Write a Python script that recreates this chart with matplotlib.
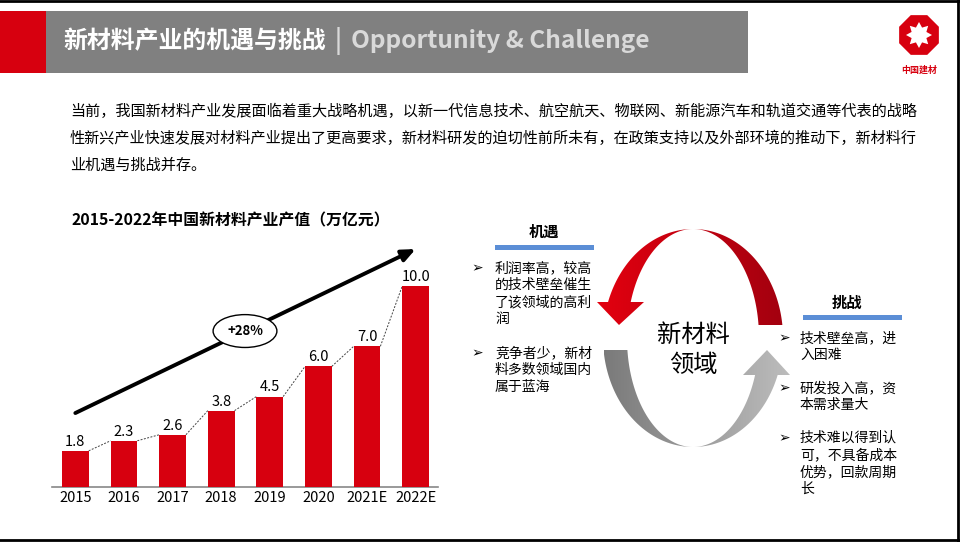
import numpy as np
import matplotlib
matplotlib.use("Agg")
import matplotlib.pyplot as plt
from matplotlib.patches import Rectangle, Polygon, RegularPolygon

plt.rcParams['font.family'] = ['Noto Sans CJK SC', 'DejaVu Sans']

# ---- data ----
years = ["2015", "2016", "2017", "2018", "2019", "2020", "2021E", "2022E"]
values = [1.8, 2.3, 2.6, 3.8, 4.5, 6.0, 7.0, 10.0]
cagr_label = "+28%"

title_cn = "新材料产业的机遇与挑战"
title_en = "Opportunity & Challenge"
intro_lines = [
    "当前，我国新材料产业发展面临着重大战略机遇，以新一代信息技术、航空航天、物联网、新能源汽车和轨道交通等代表的战略",
    "性新兴产业快速发展对材料产业提出了更高要求，新材料研发的迫切性前所未有，在政策支持以及外部环境的推动下，新材料行",
    "业机遇与挑战并存。",
]
chart_title = "2015-2022年中国新材料产业产值（万亿元）"
opp_title = "机遇"
opp_items = [["利润率高，较高", "的技术壁垒催生", "了该领域的高利", "润"],
             ["竞争者少，新材", "料多数领域国内", "属于蓝海"]]
chal_title = "挑战"
chal_items = [["技术壁垒高，进", "入困难"],
              ["研发投入高，资", "本需求量大"],
              ["技术难以得到认", "可，不具备成本", "优势，回款周期", "长"]]
center_label = "新材料\n领域"

RED = "#D7000F"
BLUE = "#5B8ED6"

fig = plt.figure(figsize=(9.6, 5.42), dpi=100)
bg = fig.add_axes([0, 0, 1, 1])
bg.set_xlim(0, 960)
bg.set_ylim(542, 0)
bg.axis("off")

# frame lines
bg.plot([0, 960], [1, 1], color="black", lw=2)
bg.plot([958, 958], [0, 542], color="black", lw=2)
bg.plot([0, 960], [540, 540], color="black", lw=2)

# header
bg.add_patch(Rectangle((0, 11), 46, 62, color=RED, lw=0))
bg.add_patch(Rectangle((46, 11), 702, 62, color="#808080", lw=0))
bg.text(63, 41, title_cn, color="white", fontsize=17.2, fontweight="bold", va="center")
bg.text(338, 41, "|", color="#D9D9D9", fontsize=17, fontweight="bold", ha="center", va="center")
bg.text(351, 41, title_en, color="#D9D9D9", fontsize=17.6, fontweight="bold", va="center")

# logo
bg.add_patch(RegularPolygon((919, 35), 8, radius=21.5, orientation=np.pi / 8, color=RED, lw=0))
ang = np.linspace(0, 2 * np.pi, 17)[:-1] + np.pi / 2
rad = np.where(np.arange(16) % 2 == 0, 13, 8)
bg.add_patch(Polygon(np.c_[919 + rad * np.cos(ang), 35 + rad * np.sin(ang)], color="white", lw=0))
bg.text(919, 70, "中国建材", color=RED, fontsize=6.5, fontweight="bold", ha="center", va="center")

# intro paragraph
for i, line in enumerate(intro_lines):
    bg.text(70, 111 + i * 27, line, fontsize=10.9, va="center", color="black")

# chart title
bg.text(231, 220, chart_title, fontsize=11.4, fontweight="bold", ha="center", va="center")

# ---- circular arrows ----
cx, cy, a_out, a_in, b = 693, 338, 90, 66, 109


def band(t0, t1, n=120):
    th = np.linspace(t0, t1, n)
    outer = np.c_[cx + a_out * np.cos(th), cy - b * np.sin(th)]
    inner = np.c_[cx + a_in * np.cos(th), cy - b * np.sin(th)]
    return outer, inner


def grad_fill(poly_pts, c_left, c_right, z):
    patch = Polygon(poly_pts, closed=True, fc="none", ec="none")
    bg.add_patch(patch)
    x0, x1 = poly_pts[:, 0].min(), poly_pts[:, 0].max()
    y0, y1 = poly_pts[:, 1].min(), poly_pts[:, 1].max()
    c0 = np.array(matplotlib.colors.to_rgb(c_left))
    c1 = np.array(matplotlib.colors.to_rgb(c_right))
    s = np.linspace(0, 1, 256)[None, :, None]
    img = c0 + (c1 - c0) * s
    im = bg.imshow(img, extent=(x0, x1, y1, y0), aspect="auto", zorder=z, interpolation="bilinear")
    im.set_clip_path(patch)


# red arc: right side over the top to the left, head pointing down
t_r0 = np.arcsin(13 / b)
t_r1 = np.pi - np.arcsin(36 / b)
outer, inner = band(t_r0, t_r1)
yb = cy - 36
head = np.array([[597, yb], [619, cy - 13], [644, yb]])
red_poly = np.vstack([outer, head, inner[::-1]])
grad_fill(red_poly, "#E3000F", "#A3000F", 2)

# gray arc: left side under the bottom to the right, head pointing up
t_g0 = np.pi + np.arcsin(12 / b)
t_g1 = 2 * np.pi - np.arcsin(37 / b)
outer, inner = band(t_g0, t_g1)
yb = cy + 37
head = np.array([[790, yb], [767, cy + 12], [743, yb]])
gray_poly = np.vstack([outer, head, inner[::-1]])
grad_fill(gray_poly, "#7A7A7A", "#BDBDBD", 2)

bg.set_xlim(0, 960)
bg.set_ylim(542, 0)

bg.text(693, 350, center_label, fontsize=17.5, ha="center", va="center", linespacing=1.2)

# opportunity column
bg.text(544, 232, opp_title, fontsize=11, fontweight="bold", ha="center", va="center")
bg.add_patch(Rectangle((495, 245), 99, 5, color=BLUE, lw=0))
y = 268
for item in opp_items:
    bg.text(477, y, "➢", fontsize=10, ha="center", va="center")
    for ln in item:
        bg.text(495, y, ln, fontsize=10, va="center")
        y += 17
    y += 17

# challenge column
bg.text(847, 303, chal_title, fontsize=11, fontweight="bold", ha="center", va="center")
bg.add_patch(Rectangle((803, 315), 99, 5, color=BLUE, lw=0))
y = 338
for item in chal_items:
    bg.text(784, y, "➢", fontsize=10, ha="center", va="center")
    for ln in item:
        bg.text(800, y, ln, fontsize=10, va="center")
        y += 17
    y += 16

# ---- bar chart ----
ax = fig.add_axes([52 / 960, 55 / 542, 386 / 960, 247 / 542])
ax.patch.set_alpha(0)
x = np.arange(len(years))
w = 0.55
ax.bar(x, values, width=w, color=RED, zorder=3)
ax.set_xlim(-0.48, 7.46)
ax.set_ylim(0, 12.29)
for i, v in enumerate(values):
    ax.annotate(f"{v:.1f}", (i, v), xytext=(0, 1.5), textcoords="offset points",
                ha="center", va="bottom", fontsize=10.5)
for i in range(len(values) - 1):
    ax.plot([i + w / 2, i + 1 - w / 2], [values[i], values[i + 1]],
            color="#444444", lw=0.7, ls=(0, (2, 1.5)), zorder=2)
ax.annotate("", xy=(7.0, 11.84), xytext=(0, 3.68),
            arrowprops=dict(arrowstyle="-|>,head_length=0.8,head_width=0.35", lw=2.8, color="black",
                            shrinkA=0, shrinkB=0))
ax.text(3.49, 7.76, cagr_label, fontsize=9.5, fontweight="bold", ha="center", va="center", zorder=5,
        bbox=dict(boxstyle="ellipse,pad=0.35", fc="white", ec="black", lw=1))
ax.set_xticks(x)
ax.set_xticklabels(years, fontsize=10.5)
ax.tick_params(axis="x", length=0, pad=3)
ax.set_yticks([])
for s in ("top", "right", "left"):
    ax.spines[s].set_visible(False)
ax.spines["bottom"].set_color("#888888")
ax.spines["bottom"].set_linewidth(1.2)

fig.savefig("out.png", dpi=100)
